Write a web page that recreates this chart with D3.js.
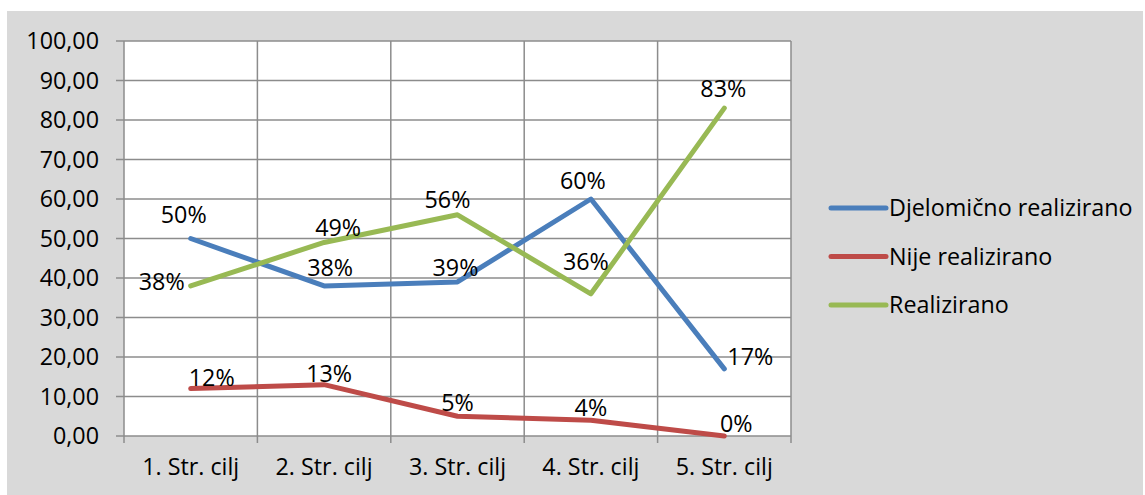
<!DOCTYPE html>
<html><head><meta charset="utf-8">
<script src="https://cdn.jsdelivr.net/npm/d3@7"></script>
<style>
html,body{margin:0;padding:0;background:#fff;}
svg text{font-family:"Open Sans","Liberation Sans",sans-serif;fill:#000;}
</style></head>
<body>
<svg id="chart" width="1145" height="495"></svg>
<script>
const categories = ["1. Str. cilj","2. Str. cilj","3. Str. cilj","4. Str. cilj","5. Str. cilj"];
const djelomicno = [50, 38, 39, 60, 17];
const nije = [12, 13, 5, 4, 0];
const realizirano = [38, 49, 56, 36, 83];
const seriesNames = ["Djelomično realizirano","Nije realizirano","Realizirano"];
const yTicks = [0,10,20,30,40,50,60,70,80,90,100];

// label offsets (layout, px)
const labelOffsets = [
  [[-7,-24],[6,-18],[-2,-14],[-8,-18],[26,-12]],
  [[21,-11],[5,-11],[0,-13],[0,-12],[12,-12]],
  [[-29,-4],[14,-15],[-10,-15],[-5,-32],[-1,-19]]
];
const colors = ["#4a7ebb","#be4b48","#98b954"];
const fs = 23.3;

const svg = d3.select("#chart");
svg.append("rect").attr("x",7).attr("y",11).attr("width",1136).attr("height",484).attr("fill","#d9d9d9");

const m = {left:124, top:41, right:791, bottom:436};
const x = d3.scaleBand().domain(categories).range([m.left,m.right]);
const y = d3.scaleLinear().domain([0,100]).range([m.bottom,m.top]);

svg.append("rect").attr("x",m.left).attr("y",m.top).attr("width",m.right-m.left).attr("height",m.bottom-m.top).attr("fill","#fff");

const gridColor = "#8c8c8c";
svg.append("g").selectAll("line").data(yTicks).join("line")
  .attr("x1",m.left-8).attr("x2",m.right)
  .attr("y1",d=>y(d)).attr("y2",d=>y(d))
  .attr("stroke",gridColor).attr("stroke-width",1.5);
const bounds = categories.map(c=>x(c)).concat([m.right]);
svg.append("g").selectAll("line").data(bounds).join("line")
  .attr("x1",d=>d).attr("x2",d=>d)
  .attr("y1",m.top).attr("y2",m.bottom+7)
  .attr("stroke",gridColor).attr("stroke-width",1.5);

svg.append("g").selectAll("text").data(yTicks).join("text")
  .attr("x",99).attr("y",d=>y(d)).attr("dy","0.35em")
  .attr("text-anchor","end").attr("font-size",fs)
  .text(d=>d3.format(".2f")(d).replace(".",","));

svg.append("g").selectAll("text").data(categories).join("text")
  .attr("x",d=>x(d)+x.bandwidth()/2).attr("y",467).attr("dy","0.35em")
  .attr("text-anchor","middle").attr("font-size",fs)
  .text(d=>d);

const seriesData = [djelomicno, nije, realizirano];
const line = d3.line().x((d,i)=>x(categories[i])+x.bandwidth()/2).y(d=>y(d));
seriesData.forEach((s,k)=>{
  svg.append("path").datum(s).attr("d",line).attr("fill","none")
    .attr("stroke",colors[k]).attr("stroke-width",5)
    .attr("stroke-linecap","round").attr("stroke-linejoin","round");
});
seriesData.forEach((s,k)=>{
  svg.append("g").selectAll("text").data(s).join("text")
    .attr("x",(d,i)=>x(categories[i])+x.bandwidth()/2+labelOffsets[k][i][0])
    .attr("y",(d,i)=>y(d)+labelOffsets[k][i][1]).attr("dy","0.35em")
    .attr("text-anchor","middle").attr("font-size",fs)
    .text(d=>d+"%");
});

const lg = svg.append("g");
seriesNames.forEach((n,k)=>{
  const ly = 208 + k*48.5;
  lg.append("line").attr("x1",831).attr("x2",886).attr("y1",ly).attr("y2",ly)
    .attr("stroke",colors[k]).attr("stroke-width",5).attr("stroke-linecap","round");
  lg.append("text").attr("x",889).attr("y",ly).attr("dy","0.35em").attr("font-size",fs).text(n);
});
</script>
</body></html>
